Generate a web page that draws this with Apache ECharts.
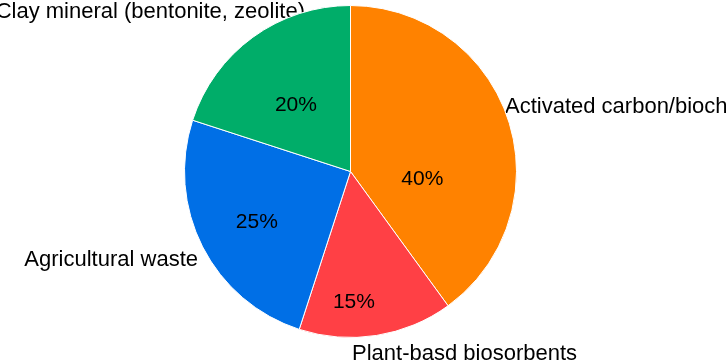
<!DOCTYPE html>
<html>
<head>
<meta charset="utf-8">
<script src="https://cdn.jsdelivr.net/npm/echarts@6/dist/echarts.min.js"></script>
<style>
    html, body { margin: 0; padding: 0; background: #fff; }
    #chart { width: 726px; height: 362px; }
</style>
</head>
<body>
<div id="chart"></div>
<script>
var categories = ['Activated carbon/bioch', 'Plant-basd biosorbents', 'Agricultural waste', 'Clay mineral (bentonite, zeolite)'];
var shares = [40, 15, 25, 20];
var colors = ['#FF8200', '#FF4045', '#006FE6', '#00AD69'];

// nudges for the percent labels (relative to echarts' default inside spot)
var innerShift = [[-10, 34], [-10, 46], [-17, 12], [-4, 3]];
// outer label anchors: x, y, align
var outerPos = [[505, 107, 'left'], [352, 354, 'left'], [198, 260, 'right'], [305, 12, 'right']];

var myChart = echarts.init(document.getElementById('chart'));

var pieData = categories.map(function (name, i) {
    return { name: name, value: shares[i], itemStyle: { color: colors[i] } };
});

var option = {
    animation: false,
    textStyle: {
        fontFamily: 'Liberation Sans, Arial, sans-serif'
    },
    series: [
        {
            type: 'pie',
            center: [350.5, 171.5],
            radius: 166,
            startAngle: 90,
            clockwise: true,
            silent: true,
            data: pieData,
            itemStyle: {
                borderColor: '#ffffff',
                borderWidth: 1
            },
            label: {
                show: true,
                position: 'inside',
                formatter: '{d}%',
                color: '#000',
                fontSize: 21
            },
            labelLine: { show: false },
            labelLayout: function (p) {
                var s = innerShift[p.dataIndex];
                return { dx: s[0], dy: s[1] };
            }
        },
        {
            type: 'pie',
            center: [350.5, 171.5],
            radius: 166,
            startAngle: 90,
            clockwise: true,
            silent: true,
            z: 1,
            data: categories.map(function (name, i) {
                return { name: name, value: shares[i] };
            }),
            itemStyle: {
                color: 'rgba(0,0,0,0)',
                borderWidth: 0
            },
            label: {
                show: true,
                position: 'outside',
                formatter: '{b}',
                color: '#000',
                fontSize: 22,
                overflow: 'none',
                width: 400
            },
            labelLine: { show: false },
            labelLayout: function (p) {
                var o = outerPos[p.dataIndex];
                return { x: o[0], y: o[1], align: o[2], verticalAlign: 'middle' };
            }
        }
    ]
};
myChart.setOption(option);
</script>
</body>
</html>
